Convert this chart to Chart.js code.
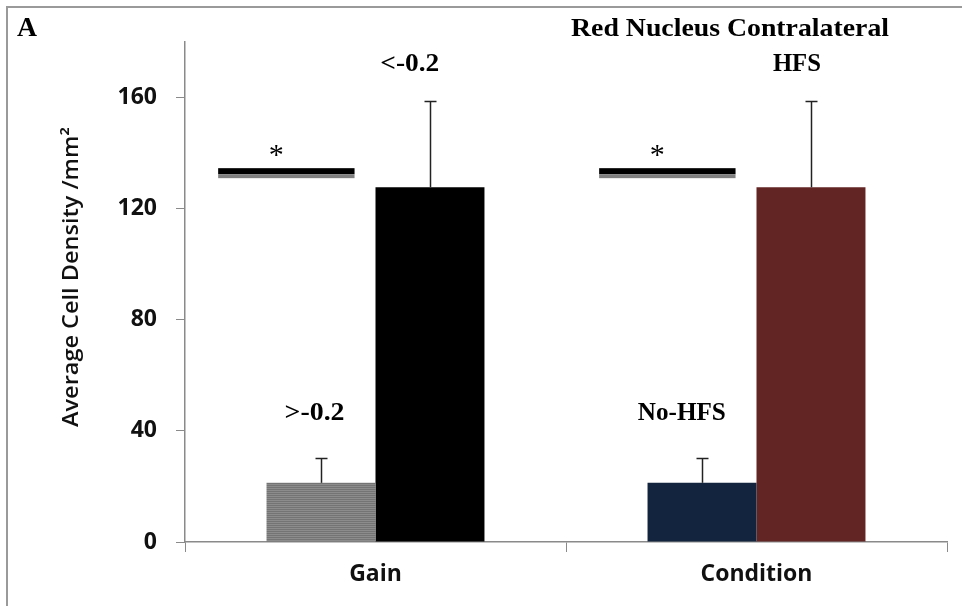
<!DOCTYPE html>
<html>
<head>
<meta charset="utf-8">
<script src="https://cdn.jsdelivr.net/npm/chart.js@4/dist/chart.umd.min.js"></script>
<style>
  html, body { margin: 0; padding: 0; background: #fff; }
  #wrap { position: relative; width: 962px; height: 606px; }
  canvas { display: block; }
</style>
</head>
<body>
<div id="wrap"><canvas id="c" width="962" height="606"></canvas></div>
<script>
// ---- Data ----
const categories = ["Gain", "Condition"];
const lowValues = [21.3, 21.3];     // >-0.2 / No-HFS
const highValues = [127.7, 127.7];  // <-0.2 / HFS
const lowErrors = [9, 9];
const highErrors = [31.2, 31.2];
const lowLabels = [">-0.2", "No-HFS"];
const highLabels = ["<-0.2", "HFS"];
const sigLevel = [133.5, 133.5];
const sigMark = ["*", "*"];
const yTicks = [0, 40, 80, 120, 160];
const chartTitle = "Red Nucleus Contralateral";
const panelLetter = "A";
const yTitle = "Average Cell Density /mm\u00B2";

// ---- Styles ----
const lowColors = ["#808080", "#13243f"];
const highColors = ["#000000", "#632424"];
const axisColor = "#8a8a8a";
const sansFam = "'Open Sans', 'DejaVu Sans', sans-serif";
const serifFam = "'Liberation Serif', 'DejaVu Serif', serif";

function makeStripe() {
  const p = document.createElement('canvas');
  p.width = 4; p.height = 2;
  const g = p.getContext('2d');
  g.fillStyle = '#8c8c8c'; g.fillRect(0, 0, 4, 1);
  g.fillStyle = '#747474'; g.fillRect(0, 1, 4, 1);
  return g.createPattern(p, 'repeat');
}
const ctx = document.getElementById('c').getContext('2d');
const lowFill = [makeStripe(), lowColors[1]];

// draw text horizontally fitted to a target width
function fitText(c, text, cx, cy, font, targetW) {
  c.save();
  c.font = font;
  const w = c.measureText(text).width;
  const sx = targetW / w;
  c.translate(cx, cy);
  c.scale(sx, 1);
  c.textAlign = 'center'; c.textBaseline = 'middle';
  c.fillText(text, 0, 0);
  c.restore();
}

const overlay = {
  id: 'overlay',
  afterDatasetsDraw(chart) {
    const c = chart.ctx;
    const xs = chart.scales.x, ys = chart.scales.y;
    const catW = xs.getPixelForValue(1) - xs.getPixelForValue(0);
    c.save();
    // error bars (upper only)
    [[0, lowValues, lowErrors], [1, highValues, highErrors]].forEach(([di, vals, errs]) => {
      const meta = chart.getDatasetMeta(di);
      meta.data.forEach((el, i) => {
        const x = Math.round(el.x) + 0.5;
        const y0 = ys.getPixelForValue(vals[i]);
        const y1 = Math.round(ys.getPixelForValue(vals[i] + errs[i])) + 0.5;
        c.strokeStyle = '#222'; c.lineWidth = 1.5;
        c.beginPath(); c.moveTo(x, y0); c.lineTo(x, y1); c.stroke();
        c.beginPath(); c.moveTo(x - 6, y1); c.lineTo(x + 6, y1); c.stroke();
      });
    });
    // significance bars
    categories.forEach((cat, i) => {
      const cx = xs.getPixelForValue(i);
      const x0 = cx - 0.413 * catW, x1 = cx - 0.055 * catW;
      const y = ys.getPixelForValue(sigLevel[i]);
      c.fillStyle = '#000'; c.fillRect(x0, y - 3, x1 - x0, 6);
      c.fillStyle = '#808080'; c.fillRect(x0, y + 3, x1 - x0, 4);
      c.fillStyle = '#000';
      c.font = "30px 'Liberation Serif', serif";
      c.textAlign = 'center'; c.textBaseline = 'middle';
      c.fillText(sigMark[i], (x0 + x1) / 2 - 10, y - 15);
    });
    // group labels
    c.fillStyle = '#000';
    const lowOff = [-0.16, -0.196], highOff = [0.09, 0.106];
    const lowW = [60, 88], highW = [59, 48];
    const lblFont = "bold 26px " + serifFam;
    categories.forEach((cat, i) => {
      const cx = xs.getPixelForValue(i);
      fitText(c, lowLabels[i], cx + lowOff[i] * catW, ys.getPixelForValue(lowValues[i] + 25.2), lblFont, lowW[i]);
      fitText(c, highLabels[i], cx + highOff[i] * catW, ys.getPixelForValue(172), lblFont, highW[i]);
    });
    // title and panel letter
    fitText(c, chartTitle, 730, 29, "bold 26px " + serifFam, 318);
    fitText(c, panelLetter, 27, 29, "bold 28px " + serifFam, 20);
    // y axis title
    c.save();
    c.translate(72, 277);
    c.rotate(-Math.PI / 2);
    c.fillStyle = '#111';
    fitText(c, yTitle, 0, 0, "600 21px " + sansFam, 300);
    c.restore();
    // outer frame
    c.strokeStyle = '#9a9a9a'; c.lineWidth = 2;
    c.beginPath(); c.moveTo(7, 606); c.lineTo(7, 7); c.lineTo(962, 7); c.stroke();
    c.restore();
  }
};

new Chart(ctx, {
  type: 'bar',
  data: {
    labels: categories,
    datasets: [
      { data: lowValues, backgroundColor: lowFill, borderWidth: 0 },
      { data: highValues, backgroundColor: highColors, borderWidth: 0 }
    ]
  },
  options: {
    responsive: false,
    animation: false,
    devicePixelRatio: 1,
    layout: { padding: { left: 0, right: 15, top: 42, bottom: 0 } },
    plugins: { legend: { display: false }, tooltip: { enabled: false } },
    datasets: { bar: { categoryPercentage: 0.572, barPercentage: 1.0 } },
    scales: {
      x: {
        grid: { display: true, drawOnChartArea: false, offset: true, color: axisColor, tickLength: 10 },
        border: { color: axisColor, width: 1.5 },
        ticks: { color: '#111', font: { family: sansFam, size: 23, weight: 'bold' }, padding: 9 },
        afterFit(s) { s.height = 64; }
      },
      y: {
        min: 0, max: 180,
        afterBuildTicks(s) { s.ticks = yTicks.map(v => ({ value: v })); },
        grid: { display: true, drawOnChartArea: false, color: axisColor, tickLength: 9 },
        border: { color: axisColor, width: 1.5 },
        ticks: { color: '#111', font: { family: sansFam, size: 23, weight: 'bold' }, padding: 19 },
        afterFit(s) { s.width = 185; }
      }
    }
  },
  plugins: [overlay]
});
</script>
</body>
</html>
